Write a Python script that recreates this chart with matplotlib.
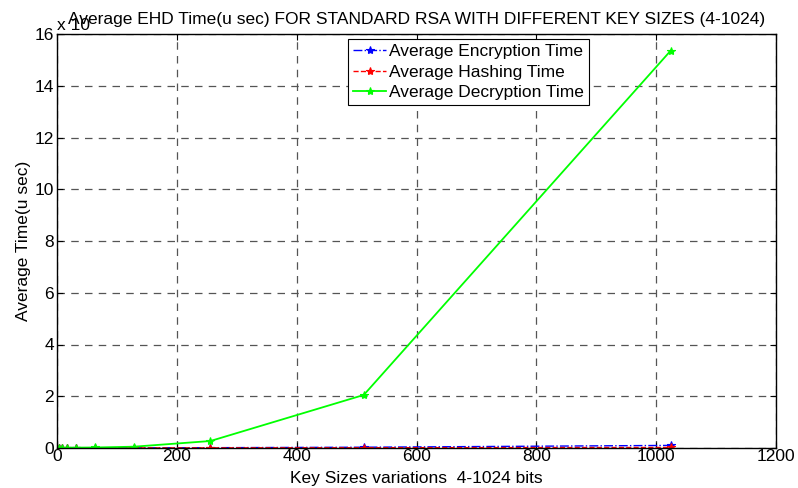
import matplotlib
matplotlib.use("Agg")
import matplotlib.pyplot as plt

plt.rcParams['font.family'] = ['Liberation Sans', 'DejaVu Sans']

key_sizes = [4, 8, 16, 32, 64, 128, 256, 512, 1024]
# values in units of 1e5 microseconds
encryption = [0.001, 0.001, 0.002, 0.003, 0.004, 0.006, 0.012, 0.03, 0.1]
hashing = [0.002, 0.002, 0.002, 0.002, 0.002, 0.003, 0.005, 0.01, 0.02]
decryption = [0.01, 0.01, 0.012, 0.015, 0.02, 0.05, 0.27, 2.05, 15.35]

FS = 12.5

fig = plt.figure(figsize=(7.98, 4.88), dpi=100)
ax = fig.add_axes([57/798, 40/488, 719/798, 414/488])

ax.plot(key_sizes, encryption, color='blue', linestyle='-.', marker='*', markersize=6,
        markeredgewidth=0.8, linewidth=1, label='Average Encryption Time')
ax.plot(key_sizes, hashing, color='red', linestyle='--', marker='*', markersize=6,
        markeredgewidth=0.8, linewidth=1, label='Average Hashing Time')
ax.plot(key_sizes, decryption, color='#00ff00', linestyle='-', marker='*', markersize=6,
        markeredgewidth=0.8, linewidth=1.3, label='Average Decryption Time')

ax.set_xlim(0, 1200)
ax.set_ylim(0, 16)
ax.set_xticks(range(0, 1201, 200))
ax.set_yticks(range(0, 17, 2))
ax.tick_params(direction='in', top=True, right=True, labelsize=FS, length=4, pad=2)
ax.tick_params(axis='x', pad=1)
ax.grid(True, color='#555555', linestyle=(0, (6, 5)), linewidth=0.9)
for s in ax.spines.values():
    s.set_linewidth(1)

ax.set_xlabel('Key Sizes variations  4-1024 bits', fontsize=FS, labelpad=4.5)
ax.set_ylabel('Average Time(u sec)', fontsize=FS, labelpad=3)
ax.set_title('Average EHD Time(u sec) FOR STANDARD RSA WITH DIFFERENT KEY SIZES (4-1024)',
             fontsize=FS, pad=7)
fig.text(57/798, 1 - 30/488, 'x 10', fontsize=FS, ha='left', va='baseline')

leg = ax.legend(loc='upper left', bbox_to_anchor=(291/719, 1 - 5/414), fontsize=FS,
                frameon=True, fancybox=False, edgecolor='black', framealpha=1,
                borderpad=0.3, labelspacing=0.3, handlelength=1.9, handletextpad=0.15,
                borderaxespad=0)
leg.get_frame().set_linewidth(0.8)

fig.savefig('out.png', dpi=100)
